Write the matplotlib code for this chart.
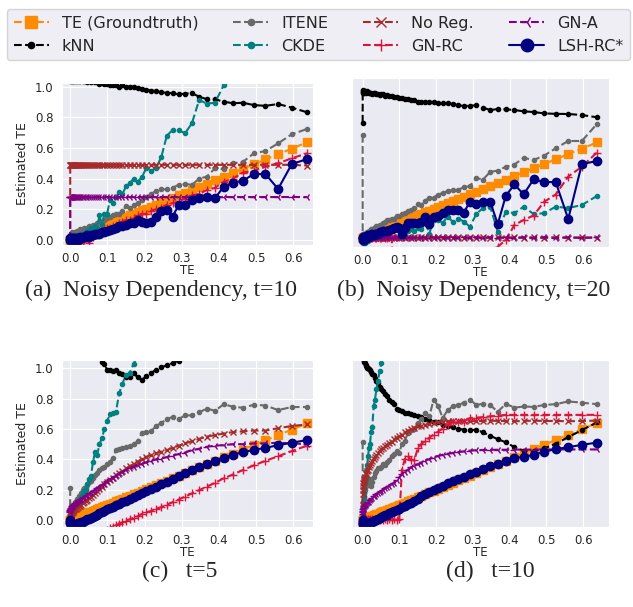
import matplotlib
matplotlib.use('Agg')
import matplotlib.pyplot as plt
import seaborn as sns

sns.set_style('darkgrid')
plt.rcParams['font.family'] = ['DejaVu Sans']

# true transfer entropy (x axis, also the groundtruth curve)
te = [0, 0.0001, 0.0004, 0.0009, 0.0016, 0.0025, 0.0036, 0.0049, 0.0064, 0.0082,
      0.0101, 0.0123, 0.0146, 0.0172, 0.0200, 0.0230, 0.0263, 0.0298, 0.0335, 0.0375,
      0.0417, 0.0462, 0.0509, 0.0559, 0.0612, 0.0668, 0.0726, 0.0788, 0.0853, 0.0921,
      0.0993, 0.1068, 0.1146, 0.1229, 0.1316, 0.1406, 0.1501, 0.1600, 0.1705, 0.1814,
      0.1929, 0.2050, 0.2176, 0.2310, 0.2450, 0.2598, 0.2753, 0.2917, 0.3090, 0.3273,
      0.3468, 0.3674, 0.3894, 0.4128, 0.4378, 0.4648, 0.4938, 0.5251, 0.5591, 0.5962,
      0.6370]

# (a) Noisy Dependency, t=10
knn_a = [1.05, 1.05, 1.04, 1.05, 1.04, 1.05, 1.04, 1.05, 1.04, 1.05,
         1.04, 1.05, 1.04, 1.04, 1.05, 1.04, 1.04, 1.05, 1.04, 1.04,
         1.04, 1.03, 1.04, 1.03, 1.04, 1.03, 1.03, 1.02, 1.03, 1.02,
         1.02, 1.01, 1.01, 1.01, 1.0, 1.01, 1.0, 1.0, 1.0, 0.99,
         0.985, 0.98, 0.975, 0.97, 0.963, 0.96, 0.957, 0.95, 0.955, 0.957,
         0.935, 0.918, 0.918, 0.902, 0.892, 0.895, 0.88, 0.875, 0.887, 0.863,
         0.833]
itene_a = [0.03, 0.01, 0.02, 0.04, 0.02, 0.03, 0.05, 0.02, 0.04, 0.03,
           0.04, 0.05, 0.03, 0.06, 0.05, 0.05, 0.07, 0.06, 0.07, 0.08,
           0.07, 0.08, 0.09, 0.08, 0.1, 0.09, 0.11, 0.12, 0.12, 0.13,
           0.14, 0.15, 0.16, 0.17, 0.17, 0.19, 0.22, 0.21, 0.23, 0.24,
           0.26, 0.28, 0.3, 0.32, 0.33, 0.33, 0.34, 0.36, 0.365, 0.36,
           0.40, 0.413, 0.467, 0.46, 0.50, 0.51, 0.565, 0.58, 0.63, 0.69,
           0.724]
ckde_a = [0.0, -0.02, 0.01, -0.03, 0.02, 0.0, -0.03, 0.01, -0.02, 0.02,
          -0.03, 0.0, 0.03, -0.02, 0.02, -0.03, 0.03, 0.01, 0.04, 0.03,
          0.05, 0.06, 0.04, 0.08, 0.07, 0.09, 0.08, 0.16, 0.10, 0.17,
          0.17, 0.26, 0.24, 0.28, 0.31, 0.30, 0.35, 0.37, 0.40, 0.38,
          0.41, 0.47, 0.45, 0.47, 0.54, 0.68, 0.717, 0.717, 0.696, 0.761,
          0.913, 0.89, 0.895, 1.01, 1.048, 1.12, 1.2, 1.28, 1.35, 1.43,
          1.5]
noreg_a = [0.0, 0.49, 0.49, 0.49, 0.49, 0.49, 0.49, 0.49, 0.49, 0.49,
           0.49, 0.49, 0.49, 0.49, 0.49, 0.49, 0.49, 0.49, 0.49, 0.49,
           0.49, 0.49, 0.49, 0.49, 0.49, 0.49, 0.49, 0.49, 0.49, 0.49,
           0.49, 0.49, 0.49, 0.49, 0.49, 0.49, 0.49, 0.49, 0.49, 0.49,
           0.49, 0.49, 0.49, 0.49, 0.49, 0.49, 0.49, 0.49, 0.49, 0.49,
           0.49, 0.49, 0.49, 0.49, 0.49, 0.49, 0.49, 0.49, 0.49, 0.49,
           0.485]
gnrc_a = [0.0, -0.01, 0.0, -0.02, 0.01, -0.01, 0.0, -0.02, 0.0, -0.01,
          0.0, -0.02, 0.01, -0.01, -0.03, 0.0, -0.02, 0.01, -0.01, 0.0,
          0.01, 0.02, -0.02, 0.03, 0.02, 0.04, 0.05, 0.05, 0.06, 0.07,
          0.08, 0.08, 0.09, 0.10, 0.11, 0.12, 0.13, 0.13, 0.14, 0.16,
          0.17, 0.17, 0.19, 0.2, 0.21, 0.23, 0.24, 0.25, 0.27, 0.29,
          0.30, 0.326, 0.34, 0.38, 0.40, 0.44, 0.45, 0.48, 0.50, 0.533,
          0.565]
gna_a = [0.0, 0.28, 0.28, 0.28, 0.28, 0.28, 0.28, 0.28, 0.28, 0.28,
         0.28, 0.28, 0.28, 0.28, 0.28, 0.28, 0.28, 0.28, 0.28, 0.28,
         0.28, 0.28, 0.28, 0.28, 0.28, 0.28, 0.28, 0.28, 0.28, 0.28,
         0.28, 0.28, 0.28, 0.28, 0.28, 0.28, 0.28, 0.28, 0.28, 0.28,
         0.28, 0.28, 0.28, 0.28, 0.28, 0.28, 0.28, 0.28, 0.28, 0.28,
         0.28, 0.28, 0.28, 0.28, 0.28, 0.28, 0.28, 0.28, 0.28, 0.28,
         0.28]
lsh_a = [0.0, 0.0, 0.01, 0.0, 0.01, 0.0, 0.01, 0.0, 0.01, 0.0,
         0.01, 0.0, 0.01, 0.01, 0.0, 0.01, 0.02, 0.01, 0.02, 0.02,
         0.02, 0.03, 0.02, 0.03, 0.03, 0.04, 0.04, 0.04, 0.05, 0.05,
         0.06, 0.065, 0.07, 0.08, 0.09, 0.09, 0.1, 0.11, 0.108, 0.13,
         0.12, 0.108, 0.12, 0.152, 0.19, 0.196, 0.152, 0.228, 0.23, 0.26,
         0.272, 0.283, 0.272, 0.348, 0.374, 0.387, 0.43, 0.43, 0.333, 0.496,
         0.527]

# (b) Noisy Dependency, t=20
knn_b = [0.77, 0.975, 0.98, 0.97, 0.985, 0.975, 0.98, 0.97, 0.98, 0.975,
         0.97, 0.98, 0.975, 0.97, 0.965, 0.97, 0.96, 0.97, 0.965, 0.96,
         0.96, 0.955, 0.96, 0.957, 0.95, 0.955, 0.945, 0.95, 0.94, 0.94,
         0.935, 0.935, 0.93, 0.93, 0.92, 0.92, 0.91, 0.91, 0.905, 0.91,
         0.905, 0.9, 0.9, 0.898, 0.895, 0.885, 0.88, 0.882, 0.885, 0.87,
         0.853, 0.86, 0.858, 0.853, 0.845, 0.84, 0.831, 0.828, 0.827, 0.82,
         0.805]
itene_b = [0.687, 0.02, 0.01, 0.03, 0.02, 0.01, 0.03, 0.02, 0.03, 0.02,
           0.03, 0.04, 0.03, 0.05, 0.04, 0.06, 0.05, 0.07, 0.06, 0.08,
           0.08, 0.09, 0.087, 0.1, 0.11, 0.12, 0.12, 0.13, 0.13, 0.15,
           0.15, 0.16, 0.17, 0.18, 0.19, 0.2, 0.23, 0.22, 0.25, 0.27,
           0.27, 0.29, 0.3, 0.313, 0.32, 0.32, 0.34, 0.345, 0.4, 0.39,
           0.44, 0.45, 0.475, 0.49, 0.535, 0.52, 0.55, 0.598, 0.647, 0.647,
           0.76]
ckde_b = [0.0, -0.03, 0.01, -0.02, 0.02, -0.01, 0.03, 0.0, -0.03, 0.02,
          0.01, 0.03, -0.02, 0.02, 0.03, 0.01, 0.04, 0.02, 0.03, 0.04,
          0.03, 0.05, 0.04, 0.06, 0.05, 0.05, 0.07, 0.06, 0.08, 0.07,
          0.08, 0.06, 0.09, 0.05, 0.06, 0.05, 0.07, 0.06, 0.1, 0.03,
          0.12, 0.12, 0.10, 0.142, 0.109, 0.13, 0.109, 0.075, 0.16, 0.2,
          0.209, 0.042, 0.175, 0.165, 0.209, 0.16, 0.165, 0.209, 0.2, 0.22,
          0.28]
noreg_b = [0.0, 0.005, 0.0, 0.005, 0.0, 0.005, 0.0, 0.005, 0.0, 0.005,
           0.0, 0.005, 0.0, 0.005, 0.0, 0.005, 0.0, 0.005, 0.0, 0.005,
           0.0, 0.005, 0.0, 0.005, 0.0, 0.005, 0.0, 0.005, 0.0, 0.005,
           0.0, 0.005, 0.0, 0.005, 0.0, 0.005, 0.0, 0.005, 0.0, 0.005,
           0.0, 0.005, 0.0, 0.005, 0.0, 0.005, 0.0, 0.005, 0.0, 0.005,
           0.0, 0.005, 0.0, 0.005, 0.0, 0.005, 0.0, 0.005, 0.0, 0.005,
           0.0]
gnrc_b = [0.0, 0.01, 0.0, -0.01, 0.0, 0.01, 0.0, 0.0, 0.01, 0.0,
          0.0, 0.01, 0.0, 0.0, 0.01, 0.0, 0.0, 0.01, 0.0, 0.0,
          0.01, 0.0, 0.0, 0.01, 0.0, 0.0, 0.01, 0.0, -0.4, -0.45,
          -0.5, -0.48, -0.52, -0.5, -0.47, -0.45, -0.42, -0.44, -0.4, -0.38,
          -0.36, -0.35, -0.33, -0.3, -0.28, -0.26, -0.24, -0.22, -0.2, -0.17,
          -0.12, -0.058, -0.013, 0.087, 0.12, 0.15, 0.242, 0.29, 0.41, 0.475,
          0.57]
gna_b = [0.005, 0.0, 0.005, 0.0, 0.005, 0.0, 0.005, 0.0, 0.005, 0.0,
         0.005, 0.0, 0.005, 0.0, 0.005, 0.0, 0.005, 0.0, 0.005, 0.0,
         0.005, 0.0, 0.005, 0.0, 0.005, 0.0, 0.005, 0.0, 0.005, 0.0,
         0.005, 0.0, 0.005, 0.0, 0.005, 0.0, 0.005, 0.0, 0.005, 0.0,
         0.005, 0.0, 0.005, 0.0, 0.005, 0.0, 0.005, 0.0, 0.005, 0.0,
         0.005, 0.0, 0.005, 0.0, 0.005, 0.0, 0.005, 0.0, 0.005, 0.0,
         0.005]
lsh_b = [0.0, -0.01, 0.0, 0.01, 0.0, -0.01, 0.01, 0.0, 0.01, 0.0,
         0.01, 0.01, 0.02, 0.01, 0.02, 0.02, 0.03, 0.02, 0.03, 0.03,
         0.03, 0.04, 0.04, 0.045, 0.05, 0.05, 0.055, 0.06, 0.065, 0.075,
         0.07, 0.03, 0.07, 0.098, 0.098, 0.1, 0.098, 0.11, 0.14, 0.093,
         0.14, 0.145, 0.17, 0.19, 0.187, 0.187, 0.17, 0.242, 0.228, 0.242,
         0.242, 0.093, 0.282, 0.357, 0.291, 0.391, 0.373, 0.373, 0.127, 0.493,
         0.513]

# (c) t=5
knn_c = [1.6, 1.58, 1.56, 1.54, 1.52, 1.5, 1.48, 1.46, 1.44, 1.42,
         1.4, 1.38, 1.36, 1.34, 1.32, 1.3, 1.28, 1.26, 1.24, 1.22,
         1.2, 1.18, 1.16, 1.15, 1.13, 1.12, 1.1, 1.08, 1.04, 1.03,
         0.99, 0.99, 0.985, 0.99, 0.97, 0.96, 0.945, 0.945, 0.97, 0.94,
         0.923, 0.95, 0.97, 0.99, 1.006, 1.02, 1.035, 1.05, 1.09, 1.12,
         1.15, 1.18, 1.2, 1.22, 1.25, 1.27, 1.3, 1.32, 1.35, 1.37,
         1.4]
itene_c = [0.21, 0.0, 0.02, 0.04, 0.03, 0.06, 0.05, 0.08, 0.07, 0.09,
           0.1, 0.12, 0.11, 0.14, 0.13, 0.16, 0.15, 0.18, 0.2, 0.21,
           0.21, 0.23, 0.25, 0.26, 0.28, 0.3, 0.31, 0.33, 0.34, 0.35,
           0.37, 0.385, 0.41, 0.46, 0.465, 0.475, 0.48, 0.49, 0.5, 0.52,
           0.575, 0.58, 0.585, 0.62, 0.64, 0.665, 0.68, 0.665, 0.69, 0.69,
           0.71, 0.735, 0.72, 0.763, 0.747, 0.74, 0.76, 0.755, 0.725, 0.745,
           0.745]
ckde_c = [0.0, 0.02, 0.03, 0.02, 0.04, 0.03, 0.05, 0.04, 0.06, 0.05,
          0.06, 0.07, 0.08, 0.09, 0.1, 0.12, 0.13, 0.15, 0.17, 0.19,
          0.2, 0.24, 0.27, 0.29, 0.38, 0.45, 0.43, 0.5, 0.54, 0.6,
          0.65, 0.7, 0.707, 0.71, 0.835, 0.9, 0.956, 0.97, 1.03, 1.08,
          1.15, 1.2, 1.3, 1.35, 1.4, 1.5, 1.55, 1.6, 1.7, 1.75,
          1.8, 1.9, 1.95, 2.0, 2.1, 2.15, 2.2, 2.3, 2.35, 2.4,
          2.5]
noreg_c = [0.0, 0.01, 0.02, 0.03, 0.035, 0.04, 0.045, 0.05, 0.055, 0.06,
           0.066, 0.07, 0.075, 0.08, 0.085, 0.09, 0.095, 0.1, 0.11, 0.12,
           0.125, 0.135, 0.145, 0.15, 0.165, 0.175, 0.19, 0.205, 0.22, 0.235,
           0.25, 0.265, 0.28, 0.295, 0.31, 0.325, 0.34, 0.355, 0.37, 0.385,
           0.405, 0.417, 0.43, 0.44, 0.45, 0.461, 0.475, 0.49, 0.505, 0.52,
           0.535, 0.55, 0.56, 0.57, 0.58, 0.585, 0.59, 0.59, 0.605, 0.62,
           0.63]
gnrc_c = [0.0, -0.3, -0.29, -0.28, -0.27, -0.26, -0.25, -0.24, -0.23, -0.22,
          -0.21, -0.2, -0.19, -0.18, -0.17, -0.165, -0.16, -0.155, -0.15, -0.145,
          -0.14, -0.135, -0.13, -0.12, -0.115, -0.11, -0.1, -0.095, -0.085, -0.075,
          -0.065, -0.055, -0.044, -0.035, -0.025, -0.015, -0.005, 0.005, 0.015, 0.025,
          0.04, 0.05, 0.06, 0.072, 0.085, 0.1, 0.117, 0.135, 0.155, 0.175,
          0.197, 0.22, 0.245, 0.275, 0.3, 0.33, 0.36, 0.39, 0.42, 0.455,
          0.49]
gna_c = [0.05, 0.06, 0.065, 0.07, 0.075, 0.08, 0.085, 0.09, 0.095, 0.1,
         0.105, 0.11, 0.115, 0.12, 0.125, 0.13, 0.135, 0.14, 0.145, 0.15,
         0.16, 0.165, 0.175, 0.18, 0.19, 0.2, 0.21, 0.22, 0.23, 0.24,
         0.255, 0.27, 0.28, 0.29, 0.305, 0.315, 0.33, 0.34, 0.35, 0.36,
         0.37, 0.38, 0.39, 0.4, 0.405, 0.415, 0.425, 0.435, 0.445, 0.46,
         0.47, 0.483, 0.49, 0.494, 0.5, 0.5, 0.505, 0.505, 0.51, 0.505,
         0.5]
lsh_c = [0.0, -0.01, -0.02, -0.02, -0.025, -0.03, -0.03, -0.03, -0.03, -0.03,
         -0.03, -0.03, -0.028, -0.025, -0.022, -0.02, -0.017, -0.014, -0.01, -0.006,
         0.0, 0.005, 0.01, 0.016, 0.022, 0.029, 0.036, 0.045, 0.055, 0.062,
         0.07, 0.078, 0.087, 0.097, 0.107, 0.117, 0.128, 0.14, 0.152, 0.165,
         0.178, 0.192, 0.206, 0.221, 0.237, 0.253, 0.27, 0.288, 0.307, 0.327,
         0.348, 0.368, 0.39, 0.41, 0.43, 0.448, 0.462, 0.476, 0.493, 0.51,
         0.527]

# (d) t=10
knn_d = [1.1, 1.09, 1.08, 1.07, 1.06, 1.05, 1.045, 1.04, 1.03, 1.02,
         1.01, 1.0, 0.995, 0.99, 0.985, 0.97, 0.96, 0.95, 0.93, 0.91,
         0.9, 0.875, 0.86, 0.845, 0.83, 0.815, 0.79, 0.775, 0.76, 0.73,
         0.725, 0.715, 0.705, 0.7, 0.695, 0.69, 0.683, 0.675, 0.66, 0.655,
         0.645, 0.64, 0.625, 0.615, 0.61, 0.6, 0.592, 0.59, 0.592, 0.575,
         0.553, 0.53, 0.51, 0.478, 0.455, 0.452, 0.47, 0.5, 0.544, 0.59,
         0.64]
itene_d = [0.515, 0.05, 0.08, 0.1, 0.12, 0.14, 0.16, 0.18, 0.2, 0.22,
           0.24, 0.26, 0.25, 0.23, 0.27, 0.22, 0.25, 0.28, 0.307, 0.32,
           0.34, 0.34, 0.35, 0.37, 0.36, 0.38, 0.395, 0.42, 0.43, 0.45,
           0.44, 0.5, 0.52, 0.57, 0.59, 0.6, 0.636, 0.66, 0.7, 0.68,
           0.79, 0.75, 0.67, 0.72, 0.745, 0.755, 0.77, 0.79, 0.755, 0.763,
           0.755, 0.71, 0.763, 0.737, 0.745, 0.742, 0.755, 0.76, 0.778, 0.77,
           0.76]
ckde_d = [0.0, 0.03, 0.06, 0.09, 0.12, 0.15, 0.18, 0.21, 0.25, 0.28,
          0.32, 0.36, 0.42, 0.47, 0.5, 0.58, 0.61, 0.745, 0.79, 0.86,
          0.91, 0.98, 1.03, 1.1, 1.16, 1.22, 1.28, 1.34, 1.4, 1.46,
          1.52, 1.58, 1.64, 1.7, 1.76, 1.82, 1.88, 1.94, 2.0, 2.06,
          2.12, 2.18, 2.24, 2.3, 2.36, 2.42, 2.48, 2.54, 2.6, 2.66,
          2.72, 2.78, 2.84, 2.9, 2.96, 3.02, 3.08, 3.14, 3.2, 3.26,
          3.32]
noreg_d = [0.1, 0.17, 0.2, 0.22, 0.24, 0.25, 0.26, 0.27, 0.28, 0.3,
           0.31, 0.32, 0.33, 0.345, 0.36, 0.375, 0.39, 0.4, 0.415, 0.425,
           0.44, 0.45, 0.465, 0.475, 0.485, 0.495, 0.505, 0.515, 0.53, 0.54,
           0.55, 0.56, 0.575, 0.585, 0.595, 0.605, 0.615, 0.62, 0.625, 0.63,
           0.638, 0.643, 0.646, 0.648, 0.65, 0.65, 0.652, 0.65, 0.648, 0.65,
           0.652, 0.65, 0.65, 0.648, 0.65, 0.652, 0.65, 0.65, 0.648, 0.65,
           0.652]
gnrc_d = [0.005, 0.0, 0.005, 0.0, 0.005, 0.0, 0.005, 0.0, 0.005, 0.0,
          0.005, 0.0, 0.005, 0.0, 0.005, 0.0, 0.005, 0.0, 0.005, 0.0,
          0.005, 0.0, 0.005, 0.0, 0.005, 0.0, 0.005, 0.0, 0.005, 0.0,
          0.005, 0.33, 0.4, 0.42, 0.395, 0.395, 0.47, 0.5, 0.52, 0.54,
          0.56, 0.58, 0.6, 0.625, 0.64, 0.64, 0.645, 0.669, 0.672, 0.675,
          0.68, 0.685, 0.69, 0.69, 0.69, 0.69, 0.69, 0.69, 0.69, 0.69,
          0.69]
gna_d = [0.02, 0.04, 0.05, 0.06, 0.07, 0.075, 0.08, 0.09, 0.095, 0.1,
         0.105, 0.11, 0.115, 0.12, 0.13, 0.14, 0.145, 0.155, 0.16, 0.17,
         0.175, 0.185, 0.19, 0.2, 0.21, 0.215, 0.225, 0.235, 0.245, 0.26,
         0.28, 0.3, 0.315, 0.33, 0.345, 0.355, 0.365, 0.375, 0.39, 0.4,
         0.41, 0.42, 0.428, 0.435, 0.44, 0.445, 0.45, 0.455, 0.458, 0.46,
         0.46, 0.461, 0.461, 0.462, 0.462, 0.462, 0.463, 0.463, 0.463, 0.463,
         0.463]
lsh_d = [0.0, -0.01, -0.02, -0.025, -0.03, -0.03, -0.033, -0.033, -0.033, -0.03,
         -0.03, -0.028, -0.025, -0.022, -0.018, -0.014, -0.01, -0.006, -0.002, 0.003,
         0.008, 0.013, 0.018, 0.024, 0.03, 0.036, 0.043, 0.05, 0.058, 0.066,
         0.075, 0.084, 0.093, 0.103, 0.113, 0.124, 0.14, 0.155, 0.168, 0.182,
         0.198, 0.212, 0.226, 0.24, 0.255, 0.27, 0.285, 0.3, 0.318, 0.335,
         0.352, 0.37, 0.388, 0.405, 0.415, 0.428, 0.448, 0.465, 0.478, 0.493,
         0.508]

labels = ['TE (Groundtruth)', 'kNN', 'ITENE', 'CKDE', 'No Reg.', 'GN-RC', 'GN-A', 'LSH-RC*']
colors = ['darkorange', 'black', 'dimgray', 'teal', 'brown', 'crimson', 'purple', 'navy']
markers = ['s', '.', '.', '.', 'x', '+', '3', 'o']
msizes = [6, 6, 6, 6, 5, 6, 6, 6]
lstyles = ['--', '--', '--', '--', '--', '--', '--', '-']

panels = [
    ([62, 83, 313, 245], (-0.022, 0.653), (-0.033, 1.024), True,
     [te, knn_a, itene_a, ckde_a, noreg_a, gnrc_a, gna_a, lsh_a],
     '(a)  Noisy Dependency, t=10', 161, 296),
    ([352, 78, 609, 247], (-0.029, 0.670), (-0.06, 1.067), False,
     [te, knn_b, itene_b, ckde_b, noreg_b, gnrc_b, gna_b, lsh_b],
     '(b)  Noisy Dependency, t=20', 474, 296),
    ([62, 360, 313, 527], (-0.022, 0.653), (-0.046, 1.055), True,
     [te, knn_c, itene_c, ckde_c, noreg_c, gnrc_c, gna_c, lsh_c],
     '(c)   t=5', 180, 577),
    ([352, 360, 609, 527], (-0.029, 0.670), (-0.046, 1.05), False,
     [te, knn_d, itene_d, ckde_d, noreg_d, gnrc_d, gna_d, lsh_d],
     '(d)   t=10', 490, 577),
]

W, H = 633, 607
fig = plt.figure(figsize=(W / 100, H / 100), dpi=100)

handles = []
for box, xl, yl, show_y, series, caption, cx, cy in panels:
    x0, y0, x1, y1 = box
    ax = fig.add_axes([x0 / W, 1 - y1 / H, (x1 - x0) / W, (y1 - y0) / H])
    hs = []
    for ys, lab, c, m, ms, ls in zip(series, labels, colors, markers, msizes, lstyles):
        h, = ax.plot(te, ys, color=c, marker=m, markersize=ms, linestyle=ls,
                     linewidth=1.5, label=lab)
        hs.append(h)
    handles = hs
    ax.set_xlim(*xl)
    ax.set_ylim(*yl)
    ax.set_xticks([0.0, 0.1, 0.2, 0.3, 0.4, 0.5, 0.6])
    ax.tick_params(axis='x', labelsize=8.5, pad=5, length=0)
    ax.set_xlabel('TE', fontsize=8.5, labelpad=-0.5)
    if show_y:
        ax.set_yticks([0.0, 0.2, 0.4, 0.6, 0.8, 1.0])
        ax.tick_params(axis='y', labelsize=8.5, pad=6, length=0)
        ax.set_ylabel('Estimated TE', fontsize=9, labelpad=4)
    else:
        ax.set_yticks([])
    fig.text(cx / W, 1 - cy / H, caption, ha='center', va='baseline',
             fontsize=17, family='Liberation Serif')

fig.legend(handles, labels, loc='upper center', bbox_to_anchor=(0.503, 0.998),
           ncol=4, fontsize=11.5, handlelength=2.2, columnspacing=2.2,
           labelspacing=0.5, markerscale=1.5, frameon=True)

fig.savefig('out.png', dpi=100)
